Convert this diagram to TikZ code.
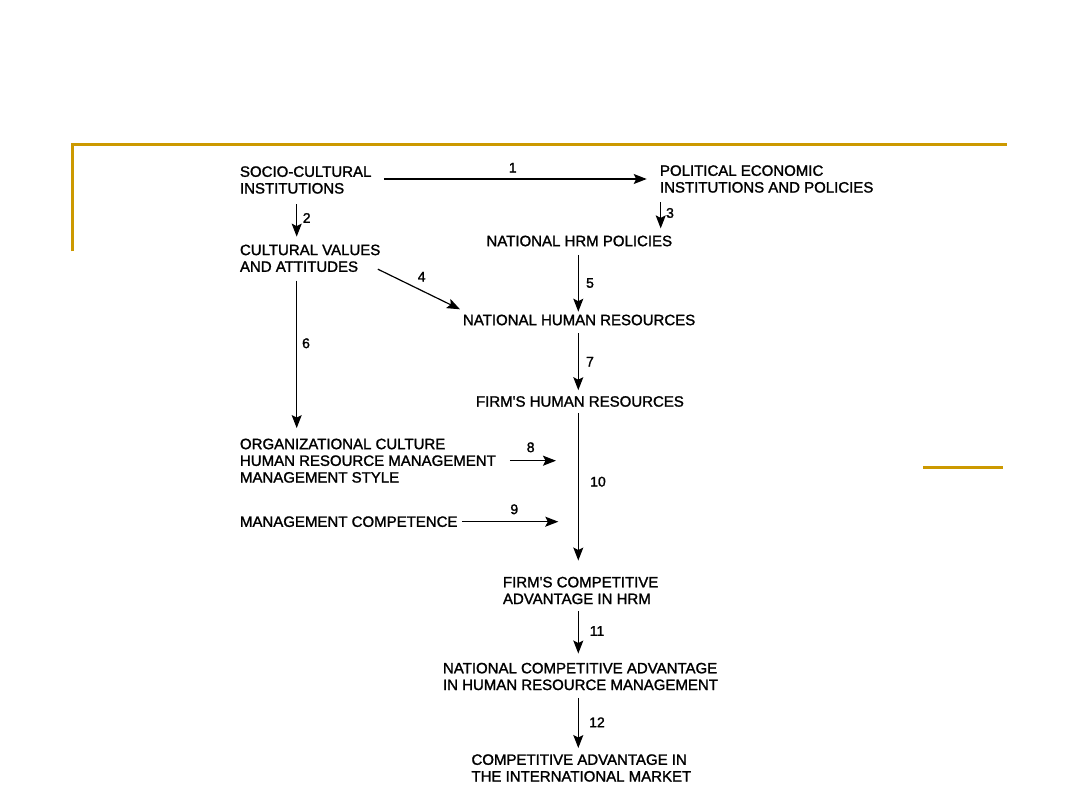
\documentclass[tikz,border=0pt]{standalone}
\usepackage{fontspec}
\usetikzlibrary{arrows.meta}
\newfontfamily\diagfont{Liberation Sans}[BoldFont={Liberation Sans}, BoldFeatures={FakeBold=1.5}]
\definecolor{gold}{RGB}{204,153,0}
\tikzset{
  txt/.style={anchor=west, inner sep=0pt, outer sep=0pt, align=left,
    font=\diagfont\bfseries\fontsize{15}{16.7}\selectfont},
  num/.style={inner sep=0pt, font=\diagfont\bfseries\fontsize{14}{14}\selectfont},
  arr/.style={line width=1.2pt, -{Stealth[length=13pt,width=10pt,inset=2.5pt]}},
  goldline/.style={draw=gold, line width=3pt}
}
\begin{document}
\begin{tikzpicture}[x=1pt,y=-1pt]
\useasboundingbox (0,0) rectangle (1080,810);
% template decoration
\draw[goldline] (72.5,251.5) -- (72.5,144.5) -- (1007,144.5);
\draw[goldline, line width=2.5pt] (923,467.7) -- (1002.5,467.7);

% nodes
\node[txt] (sc) at (240,180) {SOCIO-CULTURAL\\INSTITUTIONS};
\node[txt] (pe) at (660,179) {POLITICAL ECONOMIC\\INSTITUTIONS AND POLICIES};
\node[txt] (cv) at (240,258.3) {CULTURAL VALUES\\AND ATTITUDES};
\node[txt] (hp) at (486.5,241) {NATIONAL HRM POLICIES};
\node[txt] (nh) at (463,320) {NATIONAL HUMAN RESOURCES};
\node[txt] (fh) at (476,401.5) {FIRM'S HUMAN RESOURCES};
\node[txt] (oc) at (240,460.7) {ORGANIZATIONAL CULTURE\\HUMAN RESOURCE MANAGEMENT\\MANAGEMENT STYLE};
\node[txt] (mc) at (240,521.7) {MANAGEMENT COMPETENCE};
\node[txt] (fc) at (503,590.5) {FIRM'S COMPETITIVE\\ADVANTAGE IN HRM};
\node[txt] (nc) at (443,676.5) {NATIONAL COMPETITIVE ADVANTAGE\\IN HUMAN RESOURCE MANAGEMENT};
\node[txt] (ca) at (471.5,768) {COMPETITIVE ADVANTAGE IN\\THE INTERNATIONAL MARKET};

% columns and free ends
\coordinate (colA) at (296.7,0);
\coordinate (colB) at (660.7,0);
\coordinate (colC) at (578.3,0);
\coordinate (e8) at (556,460.7);
\coordinate (e9) at (558.3,521.7);

% connectors
\draw[arr, shorten <=12.4pt, shorten >=13.3pt] (sc.east |- pe.west) -- (pe.west);
\draw[arr, shorten <=10.6pt, shorten >=8pt] (sc.south -| colA) -- (cv.north -| colA);
\draw[arr, shorten <=9.6pt, shorten >=7.3pt] (pe.south -| colB) -- (hp.north -| colB);
\draw[arr] ([xshift=-2.5pt,yshift=2.8pt]cv.south east) -- ([xshift=-3pt,yshift=10.7pt]nh.west);
\draw[arr, shorten <=8.6pt, shorten >=3pt] (hp.south -| colC) -- (nh.north -| colC);
\draw[arr, shorten <=8.6pt, shorten >=10.6pt] (cv.south -| colA) -- (oc.north -| colA);
\draw[arr, shorten <=8pt, shorten >=6pt] (nh.south -| colC) -- (fh.north -| colC);
\draw[arr, shorten <=14pt] (oc.east) -- (e8);
\draw[arr, shorten <=4.4pt] (mc.east) -- (e9);
\draw[arr, shorten <=6pt, shorten >=16.3pt] (fh.south -| colC) -- (fc.north -| colC);
\draw[arr, shorten <=7pt, shorten >=9.3pt] (fc.south -| colC) -- (nc.north -| colC);
\draw[arr, shorten <=7.6pt, shorten >=6.3pt] (nc.south -| colC) -- (ca.north -| colC);

% connector labels
\node[num] (l1) at (512.7,167.7) {1};
\node[num] (l2) at (306.7,218) {2};
\node[num] (l3) at (670,213) {3};
\node[num] (l4) at (421.7,276.7) {4};
\node[num] (l5) at (590,283) {5};
\node[num] (l6) at (306,343.3) {6};
\node[num] (l7) at (590,361.7) {7};
\node[num] (l8) at (530.7,447.3) {8};
\node[num] (l9) at (514.3,509.3) {9};
\node[num] (l10) at (598,481.7) {10};
\node[num] (l11) at (597,631) {11};
\node[num] (l12) at (597,722.3) {12};
\end{tikzpicture}
\end{document}
